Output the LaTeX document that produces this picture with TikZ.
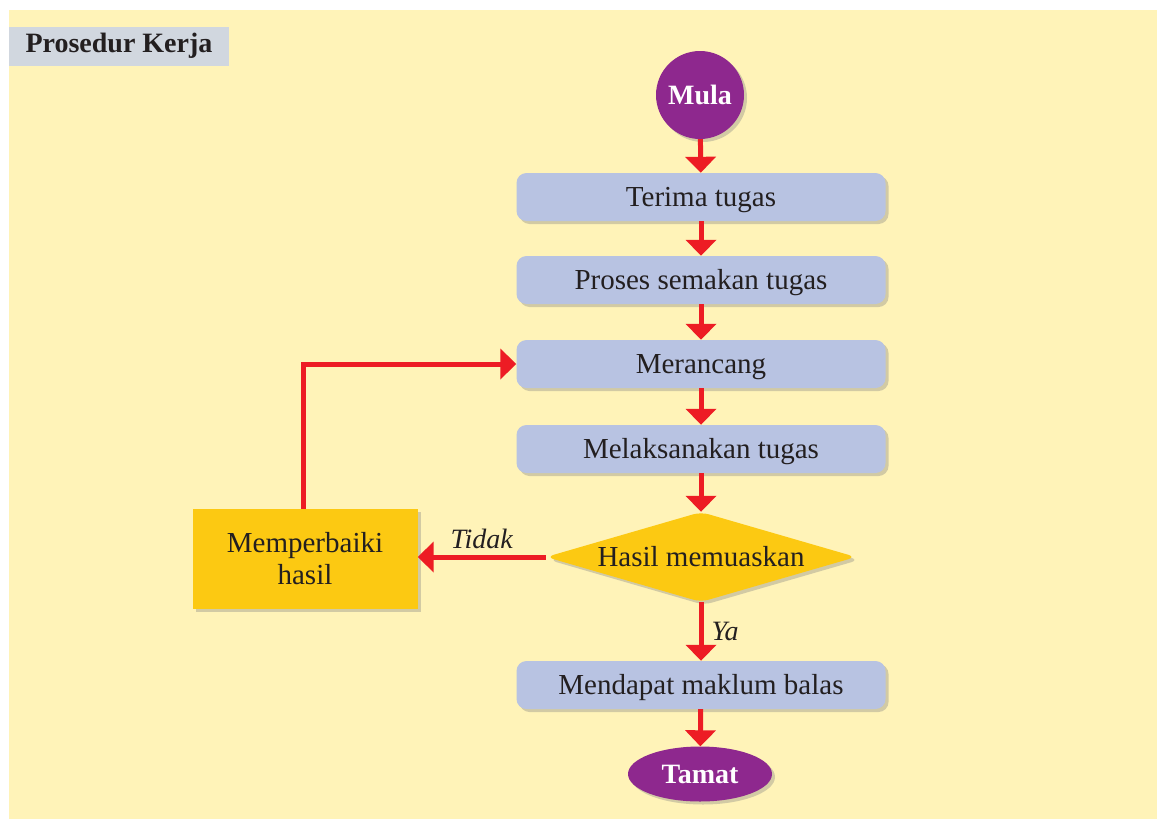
\documentclass[tikz,border=0pt]{standalone}
\usepackage{fontspec}
\setmainfont{Liberation Serif}
\usetikzlibrary{shapes.geometric, arrows.meta, shadows, positioning}

\definecolor{kertas}{RGB}{255,243,184}
\definecolor{tajuk}{RGB}{209,215,223}
\definecolor{ungu}{RGB}{142,40,142}
\definecolor{biru}{RGB}{184,195,226}
\definecolor{kuning}{RGB}{252,201,18}
\definecolor{merah}{RGB}{237,28,36}
\definecolor{teks}{RGB}{35,31,32}

\begin{document}
\begin{tikzpicture}[x=1pt, y=-1pt,
    every node/.style={font=\fontsize{29}{32}\selectfont, text=teks},
    bayang/.style={drop shadow={shadow xshift=3pt, shadow yshift=-3pt, opacity=0.35}},
    proses/.style={rectangle, rounded corners=10pt, fill=biru, bayang,
        minimum width=369pt, minimum height=48pt, inner sep=0pt,
        text height=19pt, text depth=0pt},
    hujung/.style={fill=ungu, bayang, text=white, inner sep=0pt,
        text height=19pt, text depth=0pt,
        font=\fontsize{28}{32}\selectfont\bfseries},
    aliran/.style={draw=merah, line width=5pt,
        -{Triangle[width=30pt, length=16pt]}}]
    \useasboundingbox (0,0) rectangle (1157,819);
    \fill[kertas] (9,10) rectangle (1157,819);
    \fill[tajuk] (9,27) rectangle (229,66);
    \node[anchor=west, font=\fontsize{28}{32}\selectfont\bfseries] (judul) at (22,46) {Prosedur Kerja};

    \node[hujung, circle, minimum size=88pt] (mula) at (700,95) {Mula};
    \node[proses] (terima) at (701,197) {Terima tugas};
    \node[proses] (semak) at (701,280) {Proses semakan tugas};
    \node[proses] (rancang) at (701,364) {Merancang};
    \node[proses] (laksana) at (701,449) {Melaksanakan tugas};
    \node[diamond, aspect=3.44, rounded corners=8pt, fill=kuning, bayang,
        minimum width=310pt, minimum height=90pt, inner sep=0pt,
        text height=19pt, text depth=0pt] (hasil) at (701,557) {Hasil memuaskan};
    \node[rectangle, fill=kuning, bayang, minimum width=225pt, minimum height=100pt,
        align=center, inner sep=0pt] (baiki) at (305,559) {Memperbaiki\\hasil};
    \node[proses] (balas) at (701,685) {Mendapat maklum balas};
    \node[hujung, ellipse, minimum width=144pt, minimum height=55pt] (tamat) at (700,774) {Tamat};

    \draw[aliran] (mula) -- (terima);
    \draw[aliran] (terima) -- (semak);
    \draw[aliran] (semak) -- (rancang);
    \draw[aliran] (rancang) -- (laksana);
    \draw[aliran] (laksana) -- (hasil);
    \draw[aliran] (hasil.west) -- node[above, inner sep=6pt, font=\fontsize{28}{32}\selectfont\itshape] {Tidak} (baiki.east |- hasil.west);
    \draw[aliran] (hasil) -- node[right, inner sep=8pt, font=\fontsize{28}{32}\selectfont\itshape] {Ya} (balas);
    \draw[aliran] (baiki.north -| 303,0) |- (rancang.west);
    \draw[aliran] (balas) -- (tamat);
\end{tikzpicture}
\end{document}
